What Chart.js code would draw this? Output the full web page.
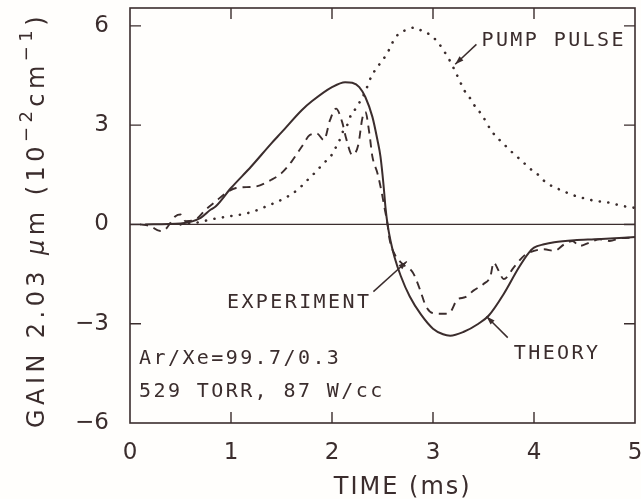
<!DOCTYPE html>
<html>
<head>
<meta charset="utf-8">
<script src="https://cdn.jsdelivr.net/npm/chart.js@4/dist/chart.umd.min.js"></script>
<style>
  html, body { margin: 0; padding: 0; background: #fffefc; }
  canvas { display: block; }
</style>
</head>
<body>
<canvas id="chart" width="641" height="499"></canvas>
<script>
// tick labels
const xTicks = [0, 1, 2, 3, 4, 5];
const yTicks = [-6, -3, 0, 3, 6];

// theory (solid)
const theoryTime = [0.15, 0.5, 0.7, 0.8, 0.85, 1.0, 1.2, 1.4, 1.5, 1.7, 1.8, 2.0, 2.13, 2.2, 2.27, 2.33, 2.4, 2.45, 2.48, 2.51, 2.53, 2.55, 2.58, 2.62, 2.68, 2.77, 2.88, 3.0, 3.1, 3.17, 3.3, 3.45, 3.55, 3.7, 3.85, 3.95, 4.0, 4.1, 4.2, 4.4, 4.6, 4.8, 5.0];
const theoryGain = [0, 0.03, 0.2, 0.45, 0.55, 1.1, 1.75, 2.45, 2.78, 3.45, 3.72, 4.15, 4.3, 4.28, 4.15, 3.85, 3.25, 2.55, 2.05, 1.2, 0.5, 0, -0.5, -1.0, -1.55, -2.18, -2.72, -3.15, -3.32, -3.36, -3.25, -3.0, -2.76, -2.1, -1.3, -0.85, -0.7, -0.6, -0.54, -0.48, -0.45, -0.42, -0.38];

// experiment (dashed)
const expTime = [0.1, 0.2, 0.3, 0.35, 0.45, 0.5, 0.55, 0.65, 0.75, 0.85, 0.95, 1.05, 1.25, 1.4, 1.5, 1.6, 1.7, 1.78, 1.85, 1.92, 1.98, 2.04, 2.1, 2.14, 2.2, 2.26, 2.3, 2.33, 2.37, 2.4, 2.45, 2.49, 2.52, 2.55, 2.57, 2.62, 2.7, 2.8, 2.87, 2.93, 3.0, 3.1, 3.17, 3.24, 3.32, 3.4, 3.5, 3.57, 3.6, 3.65, 3.7, 3.8, 3.9, 4.0, 4.1, 4.2, 4.3, 4.38, 4.45, 4.55, 4.65, 4.75, 4.85, 5.0];
const expGain = [0, -0.05, -0.2, -0.15, 0.25, 0.3, 0.1, 0.15, 0.45, 0.7, 0.95, 1.1, 1.15, 1.35, 1.55, 1.9, 2.35, 2.7, 2.75, 2.55, 3.15, 3.5, 3.1, 2.6, 2.1, 2.4, 3.2, 3.4, 2.75, 2.05, 1.55, 1.0, 0.5, 0, -0.45, -0.9, -1.2, -1.45, -1.96, -2.47, -2.68, -2.7, -2.65, -2.27, -2.2, -2.0, -1.8, -1.55, -1.15, -1.4, -1.65, -1.3, -0.95, -0.8, -0.75, -0.8, -0.6, -0.5, -0.65, -0.55, -0.45, -0.5, -0.42, -0.4];

// pump pulse (dotted)
const pumpTime = [0.5, 0.67, 0.8, 0.97, 1.1, 1.22, 1.32, 1.46, 1.56, 1.66, 1.77, 1.84, 1.91, 1.99, 2.04, 2.08, 2.11, 2.16, 2.19, 2.25, 2.29, 2.33, 2.36, 2.4, 2.46, 2.51, 2.56, 2.6, 2.66, 2.74, 2.82, 2.89, 2.97, 3.05, 3.1, 3.15, 3.23, 3.27, 3.31, 3.37, 3.42, 3.48, 3.58, 3.65, 3.73, 3.8, 3.88, 3.95, 4.03, 4.11, 4.19, 4.28, 4.35, 4.43, 4.51, 4.59, 4.66, 4.74, 4.82, 4.91, 5.0];
const pumpGain = [0, 0.06, 0.15, 0.24, 0.3, 0.39, 0.51, 0.69, 0.84, 1.05, 1.38, 1.59, 1.83, 2.07, 2.34, 2.58, 2.82, 3.06, 3.33, 3.55, 3.8, 4.0, 4.26, 4.53, 4.8, 5.0, 5.25, 5.5, 5.76, 5.88, 5.95, 5.85, 5.73, 5.5, 5.28, 5.04, 4.56, 4.3, 4.05, 3.8, 3.55, 3.33, 2.82, 2.58, 2.34, 2.13, 1.92, 1.71, 1.53, 1.29, 1.14, 1.02, 0.93, 0.84, 0.78, 0.72, 0.69, 0.66, 0.6, 0.54, 0.5];

const ink = '#3b2d2d';
const zip = (xs, ys) => xs.map((x, i) => ({ x: x, y: ys[i] }));

// labels placed in data units, arrows go from tail to tip
const notes = [
  { text: 'PUMP PULSE', x: 3.48, y: 5.38, arrow: [3.43, 5.44, 3.22, 4.84] },
  { text: 'EXPERIMENT', x: 0.96, y: -2.51, arrow: [2.41, -2.03, 2.74, -1.12] },
  { text: 'THEORY', x: 3.80, y: -4.08, arrow: [3.74, -3.42, 3.53, -2.78] },
  { text: 'Ar/Xe=99.7/0.3', x: 0.09, y: -4.23 },
  { text: '529 TORR, 87 W/cc', x: 0.09, y: -5.2 },
];

// no extra room for overhanging tick labels, the layout padding decides the box
const noOverhang = s => {
  s.paddingTop = 0; s.paddingBottom = 0; s.paddingLeft = 0; s.paddingRight = 0;
};

const framePlugin = {
  id: 'frame',
  beforeDraw(chart) {
    const ctx = chart.ctx;
    ctx.save();
    ctx.fillStyle = '#fffefc';
    ctx.fillRect(0, 0, chart.width, chart.height);
    ctx.restore();
  },
  beforeDatasetsDraw(chart) {
    const { ctx, chartArea: a, scales: { x, y } } = chart;
    ctx.save();
    ctx.strokeStyle = ink;
    ctx.lineWidth = 1.6;
    ctx.strokeRect(a.left, a.top, a.right - a.left, a.bottom - a.top);
    ctx.lineWidth = 1.4;
    ctx.beginPath();
    xTicks.slice(1, -1).forEach(v => {
      const px = x.getPixelForValue(v);
      ctx.moveTo(px, a.bottom); ctx.lineTo(px, a.bottom - 11);
      ctx.moveTo(px, a.top); ctx.lineTo(px, a.top + 11);
    });
    yTicks.slice(1).forEach(v => {
      const py = y.getPixelForValue(v);
      ctx.moveTo(a.left, py); ctx.lineTo(a.left + 11, py);
      ctx.moveTo(a.right, py); ctx.lineTo(a.right - 11, py);
    });
    ctx.stroke();
    // zero line
    ctx.lineWidth = 1.3;
    ctx.beginPath();
    ctx.moveTo(a.left, y.getPixelForValue(0));
    ctx.lineTo(a.right, y.getPixelForValue(0));
    ctx.stroke();
    ctx.restore();
  },
  afterDraw(chart) {
    const { ctx, scales: { x, y } } = chart;
    ctx.save();
    ctx.fillStyle = ink;
    ctx.strokeStyle = ink;

    // notes and arrows
    ctx.font = '20px "DejaVu Sans Mono"';
    ctx.letterSpacing = '2.4px';
    ctx.textBaseline = 'alphabetic';
    notes.forEach(n => {
      ctx.fillText(n.text, x.getPixelForValue(n.x), y.getPixelForValue(n.y));
      if (n.arrow) {
        const x1 = x.getPixelForValue(n.arrow[0]), y1 = y.getPixelForValue(n.arrow[1]);
        const x2 = x.getPixelForValue(n.arrow[2]), y2 = y.getPixelForValue(n.arrow[3]);
        ctx.lineWidth = 1.5;
        ctx.beginPath(); ctx.moveTo(x1, y1); ctx.lineTo(x2, y2); ctx.stroke();
        const ang = Math.atan2(y2 - y1, x2 - x1);
        ctx.beginPath();
        ctx.moveTo(x2, y2);
        ctx.lineTo(x2 - 9 * Math.cos(ang - 0.32), y2 - 9 * Math.sin(ang - 0.32));
        ctx.lineTo(x2 - 9 * Math.cos(ang + 0.32), y2 - 9 * Math.sin(ang + 0.32));
        ctx.closePath();
        ctx.fill();
      }
    });

    // x title
    ctx.letterSpacing = '2px';
    ctx.font = '24px "DejaVu Sans"';
    ctx.textAlign = 'center';
    ctx.fillText('TIME (ms)', x.getPixelForValue(2.7), 494);

    // y title, rotated, with superscripts
    const parts = [
      { t: 'GAIN 2.03 ', f: '24px "DejaVu Sans"', dy: 0 },
      { t: 'μ', f: 'italic 24px "DejaVu Sans"', dy: 0 },
      { t: 'm (10', f: '24px "DejaVu Sans"', dy: 0 },
      { t: '−2', f: '18px "DejaVu Sans"', dy: -12 },
      { t: 'cm', f: '24px "DejaVu Sans"', dy: 0 },
      { t: '−1', f: '18px "DejaVu Sans"', dy: -12 },
      { t: ')', f: '24px "DejaVu Sans"', dy: 0 },
    ];
    ctx.textAlign = 'left';
    ctx.letterSpacing = '0px';
    let base = 0, count = 0;
    parts.forEach(p => { ctx.font = p.f; base += ctx.measureText(p.t).width; count += p.t.length; });
    const spacing = Math.max(0, (416 - base) / count);
    ctx.translate(44, 428);
    ctx.rotate(-Math.PI / 2);
    ctx.letterSpacing = spacing + 'px';
    let cx = 0;
    parts.forEach(p => {
      ctx.font = p.f;
      ctx.fillText(p.t, cx, p.dy);
      cx += ctx.measureText(p.t).width;
    });
    ctx.restore();
  }
};

new Chart(document.getElementById('chart'), {
  type: 'scatter',
  data: {
    datasets: [
      {
        label: 'Theory',
        data: zip(theoryTime, theoryGain),
        showLine: true,
        borderColor: ink,
        borderWidth: 2,
        pointRadius: 0,
        cubicInterpolationMode: 'monotone',
      },
      {
        label: 'Experiment',
        data: zip(expTime, expGain),
        showLine: true,
        borderColor: ink,
        borderWidth: 1.9,
        borderDash: [8, 6],
        pointRadius: 0,
        cubicInterpolationMode: 'monotone',
      },
      {
        label: 'Pump pulse',
        data: zip(pumpTime, pumpGain),
        showLine: true,
        borderColor: ink,
        borderWidth: 2.6,
        borderDash: [0.1, 8.5],
        borderCapStyle: 'round',
        pointRadius: 0,
        cubicInterpolationMode: 'monotone',
      },
    ],
  },
  options: {
    responsive: false,
    animation: false,
    devicePixelRatio: 1,
    layout: { padding: { top: 8, right: 6, left: 0, bottom: 0 } },
    plugins: { legend: { display: false }, tooltip: { enabled: false } },
    scales: {
      x: {
        type: 'linear',
        min: 0,
        max: 5,
        grid: { display: false, drawTicks: false },
        border: { display: false },
        afterBuildTicks: s => { s.ticks = xTicks.map(v => ({ value: v })); },
        afterFit: s => { s.height = 76; noOverhang(s); },
        ticks: { color: ink, font: { size: 23, family: 'DejaVu Sans' }, padding: 16, maxRotation: 0 },
      },
      y: {
        min: -6,
        max: 6.54,
        grid: { display: false, drawTicks: false },
        border: { display: false },
        afterBuildTicks: s => { s.ticks = yTicks.map(v => ({ value: v })); },
        afterFit: s => { s.width = 130; noOverhang(s); },
        ticks: {
          color: ink,
          font: { size: 23, family: 'DejaVu Sans' },
          padding: 21,
          callback: v => (v < 0 ? '−' + Math.abs(v) : String(v)),
        },
      },
    },
  },
  plugins: [framePlugin],
});
</script>
</body>
</html>
